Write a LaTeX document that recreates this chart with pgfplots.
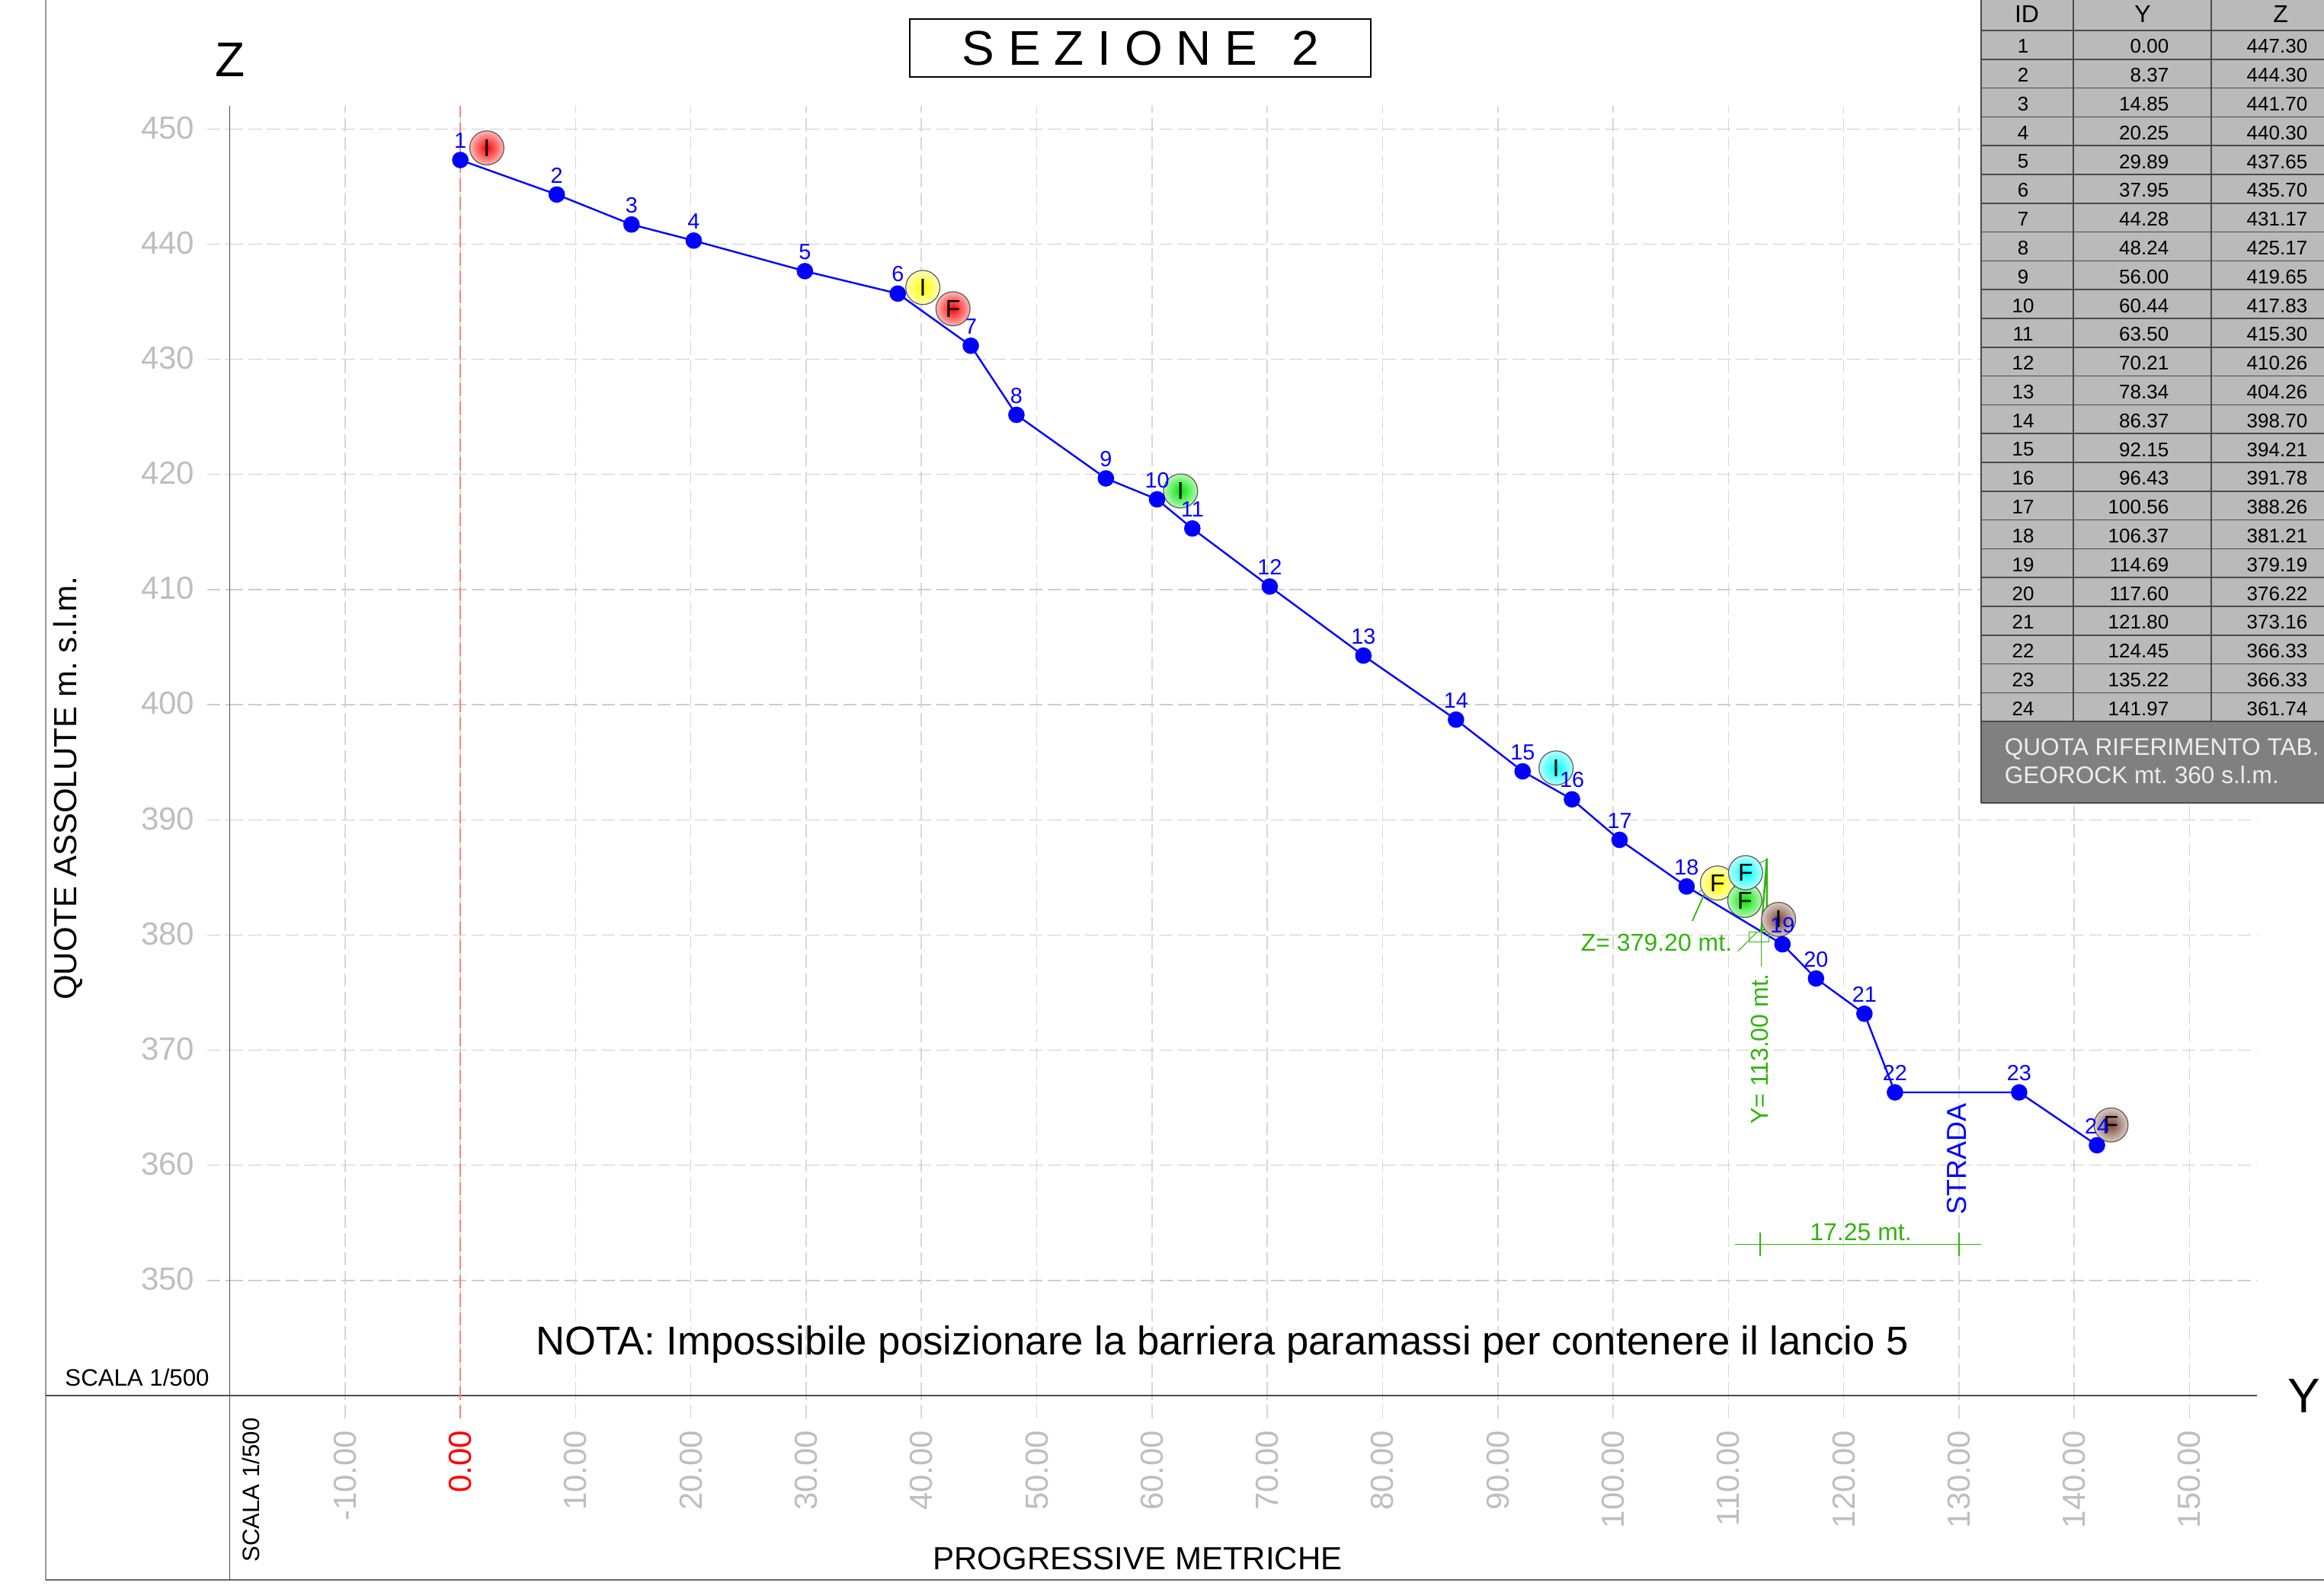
\documentclass[border=0pt]{standalone}
\usepackage{fontspec}
\setmainfont{Liberation Sans}
\usepackage{pgfplots}
\usepackage{pgfplotstable}
\pgfplotsset{compat=1.18}
\frenchspacing
\definecolor{gridh}{HTML}{C8C8C8}
\definecolor{tickc}{HTML}{BEBEBE}
\definecolor{annotc}{HTML}{2FB50A}
\definecolor{brownb}{HTML}{7A4530}
\definecolor{tabg}{HTML}{BABABA}
\definecolor{tabd}{HTML}{808080}
\definecolor{tabl}{HTML}{4A4A4A}
\newcommand{\fs}[1]{\fontsize{#1pt}{#1pt}\selectfont}
\pgfplotstableread{
x z id
0.00 447.30 1
8.37 444.30 2
14.85 441.70 3
20.25 440.30 4
29.89 437.65 5
37.95 435.70 6
44.28 431.17 7
48.24 425.17 8
56.00 419.65 9
60.44 417.83 10
63.50 415.30 11
70.21 410.26 12
78.34 404.26 13
86.37 398.70 14
92.15 394.21 15
96.43 391.78 16
100.56 388.26 17
106.37 384.21 18
114.69 379.19 19
117.60 376.22 20
121.80 373.16 21
124.45 366.33 22
135.22 366.33 23
141.97 361.74 24
}\profile
\pgfplotsset{
 bubble/.style 2 args={draw=none, no markers, forget plot,
  nodes near coords={#2},
  every node near coord/.style={circle, draw=black!65, line width=0.3pt, inner sep=0pt,
   minimum size=11.2pt, anchor=center, inner color=#1, outer color=#1!28!white,
   font=\fs{8}, text=black}},
 annotln/.style={color=annotc, line width=#1, forget plot, no markers},
}
\begin{document}
\begin{tikzpicture}
\useasboundingbox (0,0) rectangle (762.5pt,520.25pt);
\begin{axis}[
 at={(75.375pt,62.25pt)}, anchor=south west,
 scale only axis, width=665.125pt, height=423.25pt,
 xmin=-20, xmax=155.85, ymin=340, ymax=452,
 clip=false,
 axis x line=bottom, axis y line=left,
 axis line style={-, draw=black!70, line width=0.35pt},
 xtick={-10,0,...,150},
 xticklabels={-10.00,\textcolor{red}{0.00},10.00,20.00,30.00,40.00,50.00,60.00,70.00,80.00,90.00,100.00,110.00,120.00,130.00,140.00,150.00},
 ytick={350,360,...,450},
 /pgf/number format/assume math mode=true,
 /pgf/number format/1000 sep={},
 /pgf/number format/fixed,
 tick align=outside, major tick length=7.5pt,
 xmajorgrids, ymajorgrids,
 x grid style={gridh!70, line width=0.4pt, dash pattern=on 4.4pt off 1.7pt},
 y grid style={gridh!90, line width=0.33pt, dash pattern=on 4.4pt off 1.7pt},
 xtick style={gridh!70, line width=0.4pt, dash pattern=on 4.4pt off 1.7pt},
 ytick style={gridh!90, line width=0.33pt, dash pattern=on 4.4pt off 1.7pt},
 xticklabel style={rotate=90, anchor=east, inner sep=0pt, text=tickc, font=\fs{10.5}, xshift=0pt},
 yticklabel style={anchor=east, inner sep=0pt, text=tickc, font=\fs{10.5}, yshift=0.4pt},
 xticklabel shift=3.75pt, yticklabel shift=3.9pt,
]
% reference line at progressive 0
\addplot[forget plot, no markers, draw=red!50, line width=0.4pt, dash pattern=on 4.4pt off 1.7pt] coordinates {(0,338) (0,452)};
% bubbles that lie below the profile
\addplot[bubble={green!90!black}{I}] coordinates {(62.48,418.56)};
\addplot[bubble={cyan}{I}] coordinates {(95.05,394.5)};
\addplot[bubble={brownb}{I}] coordinates {(114.35,381.35)};
\addplot[bubble={brownb}{F}] coordinates {(143.19,363.5)};
% profile
\addplot[blue, line width=0.6pt, mark=*, mark size=2.4pt, mark options={fill=blue, draw=blue},
 nodes near coords, point meta=explicit symbolic,
 every node near coord/.style={anchor=south, inner sep=0pt, yshift=3.5pt, text=blue, font=\fs{7.2}}]
 table[x=x, y=z, meta=id] {\profile};
% remaining bubbles
\addplot[bubble={red}{I}] coordinates {(2.30,448.35)};
\addplot[bubble={yellow}{I}] coordinates {(40.12,436.23)};
\addplot[bubble={red}{F}] coordinates {(42.74,434.38)};
\addplot[bubble={yellow}{F}] coordinates {(109.05,384.51)};
\addplot[bubble={green!90!black}{F}] coordinates {(111.42,383.0)};
\addplot[bubble={cyan}{F}] coordinates {(111.49,385.41)};
% green survey annotations
\addplot[annotln=0.45pt] coordinates {(106.87,381.22) (108.12,384.01)};
\addplot[annotln=0.25pt] coordinates {(107.44,383.76) (113.34,386.55)};
\addplot[annotln=0.6pt] coordinates {(113.34,386.67) (112.84,380.34) (113.34,380.6) (113.34,386.67)};
\addplot[annotln=0.25pt] coordinates {(112.84,380.34) (112.84,377.25)};
\addplot[annotln=0.25pt] coordinates {(110.81,378.56) (112.5,380.28)};
\addplot[annotln=0.25pt] coordinates {(111.82,380.28) (113.5,380.28) (113.5,379.38) (111.82,379.38) (111.82,380.28)};
\addplot[annotln=0.25pt] coordinates {(110.54,353.11) (131.9,353.11)};
\addplot[annotln=0.5pt] coordinates {(112.75,354.17) (112.75,352.1)};
\addplot[annotln=0.5pt] coordinates {(130,354.17) (130,352.1)};
\end{axis}
\begin{scope}[x=0.25pt, y=-0.25pt, yshift=520.25pt]
 % frame
 \draw[black!40, line width=0.5pt] (60,0) -- (60,2074);
 \draw[black!60, line width=0.5pt] (60,2074) -- (3050,2074);
 \draw[black!70, line width=0.35pt] (60,1832) -- (301.5,1832);
 \draw[black!70, line width=0.35pt] (301.5,1832) -- (301.5,2074);
 % title
 \draw[black, line width=0.35pt, fill=white] (1194,25) rectangle (1799,101);
 \node[inner sep=0pt, font=\fs{16}] at (1497,63) {S E Z I O N E\ \ \kern2.5pt 2};
 % axis letters and labels
 \node[inner sep=0pt, font=\fs{16}] at (302,78) {Z};
 \node[inner sep=0pt, font=\fs{16}] at (3024,1832) {Y};
 \node[inner sep=0pt, font=\fs{10.5}, rotate=90] at (89.5,1035) {QUOTE ASSOLUTE m. s.l.m.};
 \node[inner sep=0pt, font=\fs{10.5}] at (1493,2046) {PROGRESSIVE METRICHE};
 \node[inner sep=0pt, font=\fs{7.8}] at (180,1808) {SCALA 1/500};
 \node[inner sep=0pt, font=\fs{7.8}, rotate=90] at (329,1956) {SCALA 1/500};
 \node[inner sep=0pt, font=\fs{13.16}] at (1604,1765) {NOTA: Impossibile posizionare la barriera paramassi per contenere il lancio 5};
 % annotations
 \node[inner sep=0pt, font=\fs{8}, text=annotc] at (2174,1237) {Z= 379.20 mt.};
 \node[inner sep=0pt, font=\fs{8}, text=annotc, rotate=90] at (2309,1377) {Y= 113.00 mt.};
 \node[inner sep=0pt, font=\fs{8}, text=annotc] at (2442,1617) {17.25 mt.};
 \node[inner sep=0pt, font=\fs{9}, text=blue, rotate=90] at (2568,1521) {STRADA};
 % data table
 \fill[tabg] (2600,0) rectangle (3050,947);
 \fill[tabd] (2600,947) rectangle (3050,1054);
 \foreach \r in {0,...,24} \draw[tabl, line width=0.4pt] (2600,{40+37.8*\r}) -- (3050,{40+37.8*\r});
 \draw[tabl, line width=0.4pt] (2600,1054) -- (3050,1054);
 \draw[tabl, line width=0.5pt] (2600,0) -- (2600,1054);
 \draw[tabl, line width=0.4pt] (2720.7,0) -- (2720.7,947);
 \draw[tabl, line width=0.4pt] (2902,0) -- (2902,947);
 \node[inner sep=0pt, font=\fs{8}] at (2660,19) {ID};
 \node[inner sep=0pt, font=\fs{8}] at (2812,19) {Y};
 \node[inner sep=0pt, font=\fs{8}] at (2993,19) {Z};
 \foreach \i/\a/\b in {1/0.00/447.30,2/8.37/444.30,3/14.85/441.70,4/20.25/440.30,5/29.89/437.65,6/37.95/435.70,7/44.28/431.17,8/48.24/425.17,9/56.00/419.65,10/60.44/417.83,11/63.50/415.30,12/70.21/410.26,13/78.34/404.26,14/86.37/398.70,15/92.15/394.21,16/96.43/391.78,17/100.56/388.26,18/106.37/381.21,19/114.69/379.19,20/117.60/376.22,21/121.80/373.16,22/124.45/366.33,23/135.22/366.33,24/141.97/361.74} {
  \pgfmathsetmacro{\yy}{42+37.8*(\i-0.5)}
  \node[inner sep=0pt, font=\fs{6.5}] at (2655,\yy) {\i};
  \node[inner sep=0pt, font=\fs{6.5}, anchor=east] at (2847,\yy) {\a};
  \node[inner sep=0pt, font=\fs{6.5}, anchor=east] at (3029,\yy) {\b};
 }
 \node[inner sep=0pt, font=\fs{7.9}, text=white!93!black, anchor=base west] at (2630,991) {QUOTA RIFERIMENTO TAB.};
 \node[inner sep=0pt, font=\fs{7.9}, text=white!93!black, anchor=base west] at (2630,1028) {GEOROCK mt. 360 s.l.m.};
\end{scope}
\end{tikzpicture}
\end{document}
